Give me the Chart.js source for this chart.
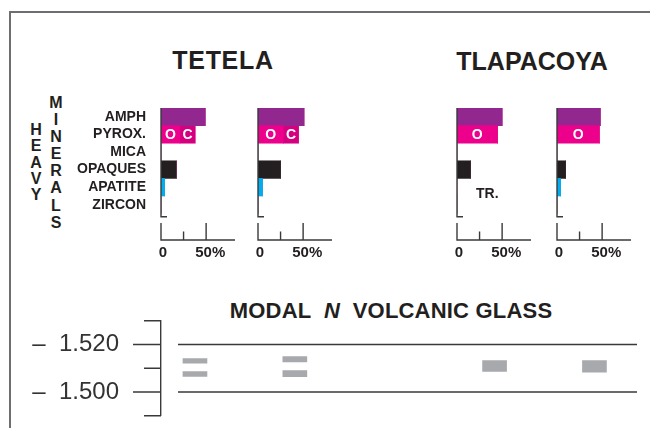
<!DOCTYPE html>
<html>
<head>
<meta charset="utf-8">
<script src="https://cdn.jsdelivr.net/npm/chart.js@4.4.1/dist/chart.umd.min.js"></script>
<style>
  html, body { margin: 0; padding: 0; background: #fff; }
  #page { position: relative; width: 650px; height: 428px; overflow: hidden;
          font-family: "Liberation Sans", Arial, sans-serif; color: #231f20; }
  #frame { position: absolute; left: 9px; top: 11px; width: 660px; height: 440px;
           border-left: 2px solid #6d6e71; border-top: 2px solid #6d6e71; }
  .t { position: absolute; font-weight: bold; white-space: nowrap; line-height: 1; text-align: center; }
  .v { position: absolute; font-weight: bold; font-size: 16px; width: 20px; text-align: center; }
  canvas { position: absolute; }
</style>
</head>
<body>
<div id="page">
  <div id="frame"></div>

  <div class="t" style="left:123px;top:47.5px;width:200px;font-size:25px;letter-spacing:0.7px">TETELA</div>
  <div class="t" style="left:432px;top:49px;width:200px;font-size:25px">TLAPACOYA</div>

  <div class="v" style="left:26px;top:122px;line-height:16.3px">H<br>E<br>A<br>V<br>Y</div>
  <div class="v" style="left:46px;top:94px;line-height:17.1px">M<br>I<br>N<br>E<br>R<br>A<br>L<br>S</div>

  <canvas id="tetelaA" width="180" height="168" style="left:61px;top:98px"></canvas>
  <canvas id="tetelaB" width="100" height="168" style="left:238px;top:98px"></canvas>
  <canvas id="tlapacoyaA" width="100" height="168" style="left:437px;top:98px"></canvas>
  <canvas id="tlapacoyaB" width="100" height="168" style="left:537px;top:98px"></canvas>

  <div class="t" style="left:191px;top:300.3px;width:400px;font-size:22px;letter-spacing:0.2px">MODAL&nbsp;&nbsp;<i>N</i>&nbsp;&nbsp;VOLCANIC GLASS</div>
  <canvas id="glass" width="629" height="122" style="left:21px;top:306px"></canvas>
</div>

<script>
// Heavy-mineral percentages, in the order of the mineral list.
// The PYROX. entry is the orthopyroxene (O) part; clinopyroxene (C) is listed separately.
const minerals = ['AMPH', 'PYROX.', 'MICA', 'OPAQUES', 'APATITE', 'ZIRCON'];
const TR = 'TR.';
const tetelaA        = [49, 21, 0, 17, 4, 0];
const tetelaACpx     = [0, 17, 0, 0, 0, 0];
const tetelaB        = [51, 28, 0, 25, 5, 0];
const tetelaBCpx     = [0, 17, 0, 0, 0, 0];
const tlapacoyaA     = [50, 45, 0, 15, TR, 0];
const tlapacoyaACpx  = [0, 0, 0, 0, 0, 0];
const tlapacoyaB     = [48, 47, 0, 9.5, 4, 0];
const tlapacoyaBCpx  = [0, 0, 0, 0, 0, 0];
const pyroxeneTypes  = ['O', 'C'];
const percentTicks   = { 0: '0', 50: ' 50%' };

// Modal refractive index (n) ranges of the volcanic glass, per sample.
const glassSamples   = ['TETELA A', 'TETELA B', 'TLAPACOYA A', 'TLAPACOYA B'];
const glassModeHigh  = [[1.5121, 1.5141], [1.5127, 1.5149], [1.5087, 1.5132], [1.5083, 1.5132]];
const glassModeLow   = [[1.5066, 1.5086], [1.5065, 1.5090], null, null];
const glassTickLabels = [1.500, 1.520];

const FONT = '"Liberation Sans", Arial, sans-serif';
const INK = '#231f20';
const AXIS = '#3a3a3a';
const mineralColors = ['#92278f', '#ec008c', '#999999', '#231f20', '#00aeef', '#999999'];
const CPX_COLOR = '#d4007f';
const GLASS_GRAY = '#a7a9ac';
const PYROX = minerals.indexOf('PYROX.');

Chart.defaults.font.family = FONT;
Chart.defaults.color = INK;

// fixed axis box: exact width, no extra room above or below for tick labels
const fixedWidth = w => s => { s.width = w; s.paddingTop = 0; s.paddingBottom = 0; };
const noGrid = { display: false, drawTicks: false, tickLength: 0 };

function panelAxes(values) {
  return {
    id: 'panelAxes',
    afterDatasetsDraw(chart) {
      const { ctx, chartArea: a, scales: { x, y } } = chart;
      const x0 = x.getPixelForValue(0);
      ctx.save();
      ctx.strokeStyle = AXIS;
      ctx.lineWidth = 1.4;
      ctx.beginPath();
      // percentage axis with ticks standing up into the plot
      ctx.moveTo(x0 - 0.7, a.bottom);
      ctx.lineTo(a.right, a.bottom);
      x.ticks.forEach(t => {
        if (t.value <= 0 || t.value % 25) return;
        const px = x.getPixelForValue(t.value);
        ctx.moveTo(px, a.bottom);
        ctx.lineTo(px, a.bottom - (t.value === 50 ? 17 : 8.5));
      });
      // mineral axis, broken just above the percentage axis
      ctx.moveTo(x0, a.top);
      ctx.lineTo(x0, a.bottom - 23.3);
      ctx.lineTo(x0 + 6, a.bottom - 23.3);
      ctx.moveTo(x0, a.bottom - 17);
      ctx.lineTo(x0, a.bottom);
      ctx.stroke();

      // O / C labels inside the pyroxene segments
      ctx.font = `bold 14px ${FONT}`;
      ctx.textAlign = 'center';
      ctx.textBaseline = 'middle';
      ctx.fillStyle = '#ffffff';
      chart.data.datasets.forEach((ds, di) => {
        const v = ds.data[PYROX];
        const el = chart.getDatasetMeta(di).data[PYROX];
        if (!v || !el) return;
        const { x: xe, base, y: ye } = el.getProps(['x', 'base', 'y'], true);
        ctx.fillText(pyroxeneTypes[di], (xe + base) / 2, ye + 1);
      });

      // trace amounts are written instead of drawn
      ctx.fillStyle = INK;
      ctx.textAlign = 'left';
      values.forEach((v, i) => {
        if (v === TR) ctx.fillText(TR, x0 + 19, y.getPixelForValue(i) + 7);
      });
      ctx.restore();
    }
  };
}

function heavyMineralPanel(id, main, cpx, showNames, axisWidth) {
  new Chart(document.getElementById(id), {
    type: 'bar',
    data: {
      labels: minerals.map((_, i) => i),
      datasets: [
        { data: main.map(v => (v === TR ? null : v)), backgroundColor: mineralColors, borderWidth: 0 },
        { data: cpx, backgroundColor: CPX_COLOR, borderWidth: 0 }
      ]
    },
    options: {
      indexAxis: 'y',
      responsive: false,
      animation: false,
      events: [],
      layout: { padding: { top: 10, right: 6, left: 0, bottom: 0 } },
      plugins: { legend: { display: false }, tooltip: { enabled: false }, colors: { enabled: false } },
      datasets: { bar: { barPercentage: 1, categoryPercentage: 1 } },
      scales: {
        x: {
          type: 'linear', min: 0, max: 82, stacked: true, offset: false,
          grid: noGrid, border: { display: false },
          ticks: {
            stepSize: 25, autoSkip: false, maxRotation: 0, padding: 4, labelOffset: 2,
            font: { size: 15, weight: 'bold' }, color: INK,
            callback: v => percentTicks[v] ?? ''
          },
          afterFit: s => { s.height = 26; }
        },
        y: {
          type: 'linear', reverse: true, min: -0.5, max: 7, stacked: true, offset: false,
          grid: noGrid, border: { display: false },
          afterBuildTicks: s => { s.ticks = minerals.map((_, i) => ({ value: i })); },
          ticks: {
            display: showNames, autoSkip: false, padding: 15,
            font: { size: 14, weight: 'bold' }, color: INK,
            callback: v => minerals[v] ?? ''
          },
          afterFit: fixedWidth(axisWidth)
        }
      }
    },
    plugins: [panelAxes(main)]
  });
}

heavyMineralPanel('tetelaA', tetelaA, tetelaACpx, true, 100);
heavyMineralPanel('tetelaB', tetelaB, tetelaBCpx, false, 20);
heavyMineralPanel('tlapacoyaA', tlapacoyaA, tlapacoyaACpx, false, 20);
heavyMineralPanel('tlapacoyaB', tlapacoyaB, tlapacoyaBCpx, false, 20);

// the two sites are separated by an empty slot on the sample axis
const glassSlot = i => i + (i >= 2 ? 1 : 0);
const isLabelled = v => glassTickLabels.some(l => Math.abs(l - v) < 1e-6);

const glassAxis = {
  id: 'glassAxis',
  afterDatasetsDraw(chart) {
    const { ctx, chartArea: a, scales: { y } } = chart;
    ctx.save();
    ctx.strokeStyle = AXIS;
    ctx.lineWidth = 1.4;
    ctx.beginPath();
    y.ticks.forEach(t => {
      const py = y.getPixelForValue(t.value);
      const labelled = isLabelled(t.value);
      ctx.moveTo(a.left - (labelled ? 28 : 17), py);
      ctx.lineTo(a.left, py);
      if (labelled) {
        ctx.moveTo(a.left + 17, py);
        ctx.lineTo(a.right, py);
      }
    });
    ctx.stroke();
    ctx.restore();
  }
};

const glassBar = { backgroundColor: GLASS_GRAY, borderWidth: 0, barThickness: 24, grouped: false };

new Chart(document.getElementById('glass'), {
  type: 'bar',
  data: {
    datasets: [
      { ...glassBar, data: glassModeHigh.map((r, i) => ({ x: glassSlot(i), y: r })) },
      { ...glassBar, data: glassModeLow.map((r, i) => (r ? { x: glassSlot(i), y: r } : null)).filter(Boolean) }
    ]
  },
  options: {
    responsive: false,
    animation: false,
    events: [],
    layout: { padding: { top: 14.75, bottom: 12.25, right: 13, left: 0 } },
    plugins: { legend: { display: false }, tooltip: { enabled: false }, colors: { enabled: false } },
    scales: {
      x: { type: 'linear', min: -0.34, max: 4.426, offset: false, grid: { offset: false }, display: false },
      y: {
        type: 'linear', min: 1.49, max: 1.53,
        grid: { display: true, drawOnChartArea: false, drawTicks: false },
        border: { display: true, color: AXIS, width: 1.4 },
        ticks: {
          stepSize: 0.01, autoSkip: false, padding: 42,
          font: { size: 24 }, color: '#333333',
          callback: v => (isLabelled(v) ? '\u2013  ' + v.toFixed(3) : '')
        },
        afterFit: fixedWidth(140)
      }
    }
  },
  plugins: [glassAxis]
});
</script>
</body>
</html>
